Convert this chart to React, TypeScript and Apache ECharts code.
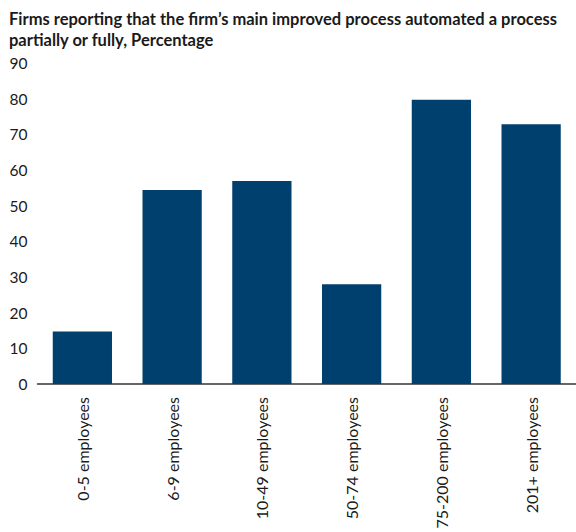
import React, { useEffect, useRef } from "react";
import * as echarts from "echarts";

const categories = ["0-5 employees", "6-9 employees", "10-49 employees", "50-74 employees", "75-200 employees", "201+ employees"];
const values = [14.7, 54.4, 56.9, 28.0, 79.7, 72.8];
const titleLines = ["Firms reporting that the firm\u2019s main improved process automated a process", "partially or fully, Percentage"];

export default function App() {
  const ref = useRef<HTMLDivElement>(null);
  useEffect(() => {
    const chart = echarts.init(ref.current!, null, { renderer: "svg" });
    const font = "Lato";
    chart.setOption({
      animation: false,
      backgroundColor: "#ffffff",
      title: {
        text: titleLines.join("\n"),
        left: 4,
        top: 3,
        textStyle: { fontFamily: font, fontSize: 16.5, fontWeight: "bold", color: "#1a1a1a", lineHeight: 21.5 },
      },
      grid: { left: 37.5, right: 0, top: 63, bottom: 148, containLabel: false, outerBoundsMode: "none" },
      xAxis: {
        type: "category",
        data: categories,
        axisLine: { lineStyle: { color: "#333333", width: 1.5 } },
        axisTick: { show: false },
        axisLabel: { rotate: 90, margin: 13, fontFamily: font, fontSize: 16, color: "#1a1a1a", interval: 0 },
      },
      yAxis: {
        type: "value",
        min: 0,
        max: 90,
        interval: 10,
        splitLine: { show: false },
        axisLine: { show: false },
        axisTick: { show: false },
        axisLabel: { margin: 10, fontFamily: font, fontSize: 15.5, color: "#1a1a1a" },
      },
      series: [
        {
          type: "bar",
          data: values,
          barCategoryGap: "34%",
          itemStyle: { color: "#00406f" },
        },
      ],
    });
    return () => chart.dispose();
  }, []);
  return <div ref={ref} style={{ position: "fixed", left: 0, top: 0, width: 576, height: 532 }} />;
}
